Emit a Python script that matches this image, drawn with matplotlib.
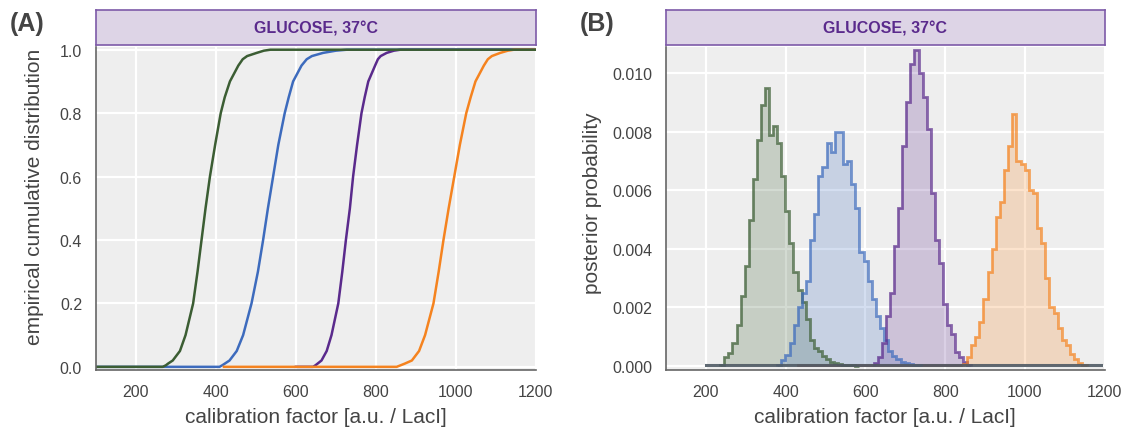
"""ECDF and posterior histograms of the calibration factor, glucose 37C."""

import matplotlib.pyplot as plt
import numpy as np

plt.rcParams["font.family"] = ["Liberation Sans", "DejaVu Sans"]

# ---- panel A: empirical CDFs ----
ecdf_levels = [0, 0, 0.005, 0.01, 0.02, 0.05, 0.1, 0.2, 0.3, 0.4, 0.5, 0.6,
               0.7, 0.8, 0.85, 0.9, 0.95, 0.97, 0.98, 0.99, 0.997, 1.0, 1.0]
green_ecdf_x = [100, 267, 275, 280, 292, 310, 324, 343, 354, 364, 374, 385,
                398, 412, 422, 435, 456, 467, 478, 502, 520, 536, 1200]
blue_ecdf_x = [100, 409, 416, 422, 434, 452, 468, 489, 505, 518, 530, 543,
               556, 572, 582, 593, 614, 627, 640, 668, 700, 727, 1200]
purple_ecdf_x = [600, 643, 649, 654, 664, 677, 689, 706, 716, 725, 735, 743,
                 753, 764, 772, 781, 798, 805, 812, 827, 845, 861, 1200]
orange_ecdf_x = [420, 852, 862, 872, 890, 908, 923, 944, 957, 969, 982, 996,
                 1010, 1026, 1037, 1049, 1070, 1080, 1090, 1111, 1130, 1145,
                 1200]

# ---- panel B: posterior histograms (bin start, bin width, heights) ----
green_start, green_width = 236, 10.2
green_hist = [0.00005, 0.0003, 0.00045, 0.0008, 0.0014, 0.0024, 0.0034, 0.0050,
              0.0064, 0.0077, 0.0089, 0.0095, 0.0079, 0.0082, 0.0076, 0.0065,
              0.0053, 0.0042, 0.0032, 0.0026, 0.0022, 0.0016, 0.0009, 0.0006,
              0.0005, 0.00035, 0.00024, 0.00012, 0.0001, 0.00007, 0.00005,
              0.00003, 0.00002, 0.00001]
blue_start, blue_width = 379, 10.3
blue_hist = [0.00005, 0.0002, 0.00036, 0.0008, 0.0014, 0.0020, 0.0025, 0.0029,
             0.0043, 0.0052, 0.0065, 0.0068, 0.0076, 0.0073, 0.0080, 0.0080,
             0.0069, 0.0070, 0.0062, 0.0054, 0.0039, 0.0036, 0.0029, 0.0023,
             0.0017, 0.0013, 0.0009, 0.0005, 0.00035, 0.00024, 0.00015,
             0.0001, 0.00006, 0.00004, 0.00002]
purple_start, purple_width = 622, 10.1
purple_hist = [0.0001, 0.0003, 0.0008, 0.0017, 0.0025, 0.0041, 0.0054, 0.0075,
               0.0090, 0.0103, 0.0108, 0.0100, 0.0092, 0.0081, 0.0059, 0.0043,
               0.0035, 0.0021, 0.0014, 0.0011, 0.00047, 0.0003, 0.00012,
               0.00005]
orange_start, orange_width = 844, 10.35
orange_hist = [0.00007, 0.0003, 0.0007, 0.0010, 0.0015, 0.0023, 0.0032, 0.0040,
               0.0051, 0.0056, 0.0067, 0.0075, 0.0086, 0.0070, 0.0069, 0.0067,
               0.0060, 0.0059, 0.0047, 0.0042, 0.0030, 0.0020, 0.0018, 0.0013,
               0.0009, 0.0007, 0.0004, 0.00024, 0.0001, 0.00005]
# near-zero traces of the remaining samples
slate_x, slate_y = [200, 1190], [0.00002, 0.00002]
red_x, red_y = [430, 840], [0.00003, 0.00003]

colors = {"green": "#3b5d33", "blue": "#3d6bbd", "purple": "#5a2a8c",
          "orange": "#f5831f"}
bg = "#eeeeee"
text_grey = "#444444"
header_fill = "#ddd4e6"
header_edge = "#7d5aa8"
header_text = "#5a2a8c"

fig = plt.figure(figsize=(11.25, 4.35), dpi=100)

ax_bottom, ax_height = 0.1471, 0.7425
ax_a = fig.add_axes([0.0853, ax_bottom, 0.391, ax_height])
ax_b = fig.add_axes([0.592, ax_bottom, 0.390, ax_height])


def style_axes(ax):
    ax.set_facecolor(bg)
    ax.grid(True, color="white", lw=1.6)
    ax.set_axisbelow(True)
    for side in ("top", "right"):
        ax.spines[side].set_visible(False)
    for side in ("left", "bottom"):
        ax.spines[side].set_color("#666666")
        ax.spines[side].set_linewidth(1.2)
    ax.tick_params(length=0, labelsize=11.5, labelcolor=text_grey, pad=10)
    ax.set_xlim(100, 1200)
    ax.set_xticks([200, 400, 600, 800, 1000, 1200])
    ax.set_xlabel("calibration factor [a.u. / LacI]", fontsize=15,
                  color=text_grey, labelpad=6)


def add_header(ax, label):
    pos = ax.get_position()
    hdr = fig.add_axes([pos.x0, 0.8943, pos.width, 0.0805])
    hdr.set_facecolor(header_fill)
    hdr.set_xticks([])
    hdr.set_yticks([])
    for sp in hdr.spines.values():
        sp.set_color(header_edge)
        sp.set_linewidth(1.2)
    hdr.text(0.5, 0.5, "GLUCOSE, 37°C", ha="center", va="center",
             fontsize=11.5, fontweight="bold", color=header_text)
    fig.text(pos.x0 - 0.077, 0.945, label, ha="left", va="center",
             fontsize=18, fontweight="bold", color=text_grey)


# panel A
style_axes(ax_a)
for name, xs in [("purple", purple_ecdf_x), ("blue", blue_ecdf_x),
                 ("orange", orange_ecdf_x), ("green", green_ecdf_x)]:
    ax_a.plot(xs, ecdf_levels, color=colors[name], lw=1.8)
ax_a.set_ylim(-0.01, 1.0085)
ax_a.set_yticks([0, 0.2, 0.4, 0.6, 0.8, 1.0])
ax_a.set_yticklabels(["0.0", "0.2", "0.4", "0.6", "0.8", "1.0"])
ax_a.set_ylabel("empirical cumulative distribution", fontsize=15,
                color=text_grey)
ax_a.yaxis.set_label_coords(-0.118, 0.54)
add_header(ax_a, "(A)")

# panel B
style_axes(ax_b)
ax_b.plot(red_x, red_y, color="#d0674f", lw=2, zorder=2)
for name, start, width, heights in [
    ("green", green_start, green_width, green_hist),
    ("blue", blue_start, blue_width, blue_hist),
    ("purple", purple_start, purple_width, purple_hist),
    ("orange", orange_start, orange_width, orange_hist),
]:
    edges = start + width * np.arange(len(heights) + 1)
    ax_b.stairs(heights, edges, fill=True, color=colors[name], alpha=0.22,
                lw=0, zorder=3)
    ax_b.stairs(heights, edges, color=colors[name], alpha=0.7, lw=2.0,
                zorder=4)
ax_b.plot(slate_x, slate_y, color="#4f5a64", lw=2.2, alpha=0.9, zorder=5)
ax_b.set_ylim(-0.000137, 0.01089)
ax_b.set_yticks([0, 0.002, 0.004, 0.006, 0.008, 0.010])
ax_b.set_yticklabels(["0.000", "0.002", "0.004", "0.006", "0.008", "0.010"])
ax_b.set_ylabel("posterior probability", fontsize=15, color=text_grey)
ax_b.yaxis.set_label_coords(-0.145, 0.52)
add_header(ax_b, "(B)")

fig.savefig("out.png", dpi=100)
plt.close(fig)
